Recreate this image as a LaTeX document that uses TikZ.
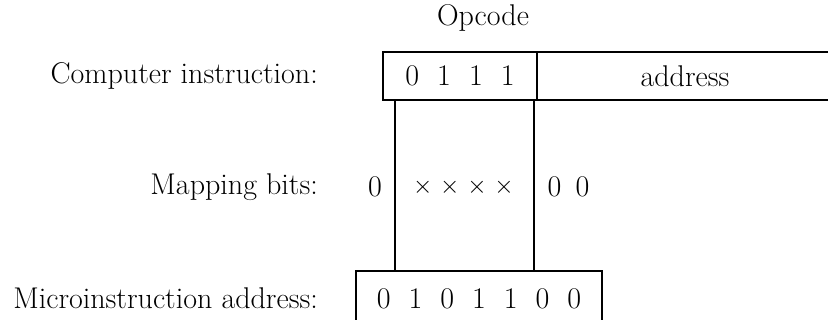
\documentclass[tikz,border=0pt]{standalone}
\usepackage{amsmath}
\usetikzlibrary{positioning}

\newcommand{\bitgap}{\hspace{0.6em}}
\newcommand{\xgap}{\hspace{0.26em}}

\tikzset{
  field/.style={draw,line width=2.6pt,inner sep=0pt,outer sep=0pt},
  link/.style={line width=1.2pt},
  rowlabel/.style={anchor=east,inner sep=0pt}
}

\begin{document}
\begin{tikzpicture}[>=latex,x=1pt,y=-1pt,font=\fontsize{30}{34}\selectfont]
    \useasboundingbox (0,0) rectangle (828,320);
    \clip (0,0) rectangle (828,320);
    \path
    % row labels
    +(318, 76)  node[rowlabel] (lci) {Computer instruction:}
    +(318, 187) node[rowlabel] (lmb) {Mapping bits:}
    +(318, 298) node[rowlabel] (lma) {Microinstruction address:}
    % instruction word
    +(460, 76)  node[field,minimum width=154pt,minimum height=48pt] (opc) {0\bitgap1\bitgap1\bitgap1}
    +(483, 18)  node (opl) {Opcode}
    % mapping bits
    +(375, 187) node[inner sep=0pt] (m0) {0}
    +(463.5, 187) node[inner sep=0pt] (mx) {$\times$\xgap$\times$\xgap$\times$\xgap$\times$}
    +(568.5, 187) node[inner sep=0pt] (m00) {0\hspace{0.47em}0}
    % microinstruction address
    +(479, 299) node[field,minimum width=246pt,minimum height=56pt] (micro) {0\bitgap1\bitgap0\bitgap1\bitgap1\bitgap0\bitgap0};
    \node[field,anchor=west,minimum width=296pt,minimum height=48pt] (addr) at (opc.east) {address};
    \draw[link] ([xshift=12pt]opc.south west) -- ([xshift=12pt]opc.south west |- micro.north);
    \draw[link] ([xshift=-3pt]opc.south east) -- ([xshift=-3pt]opc.south east |- micro.north);
\end{tikzpicture}
\end{document}
